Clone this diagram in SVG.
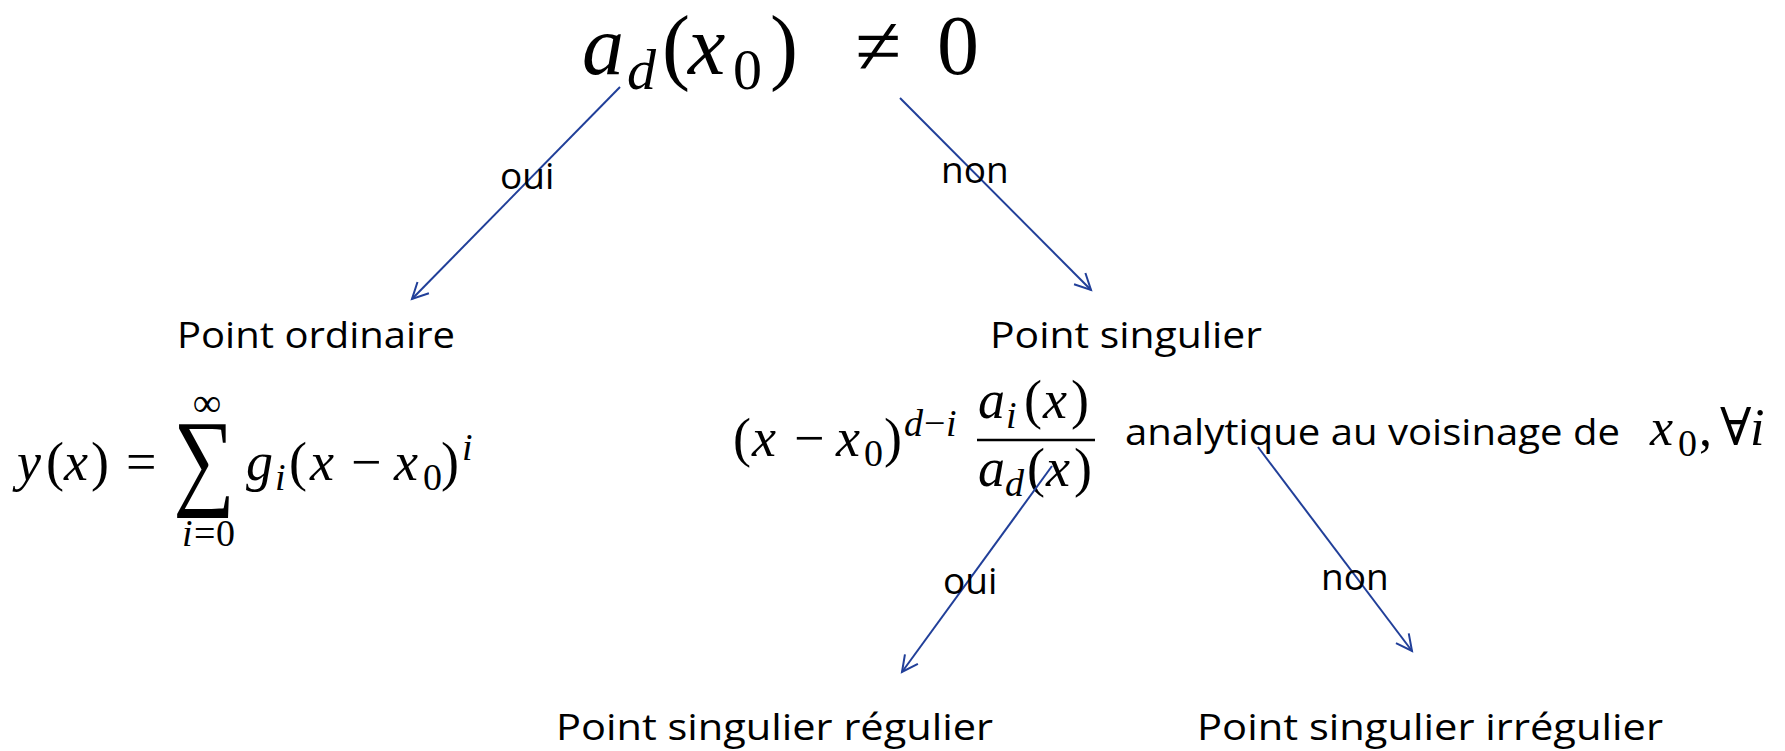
<svg xmlns="http://www.w3.org/2000/svg" width="1785" height="751" viewBox="0 0 1785 751">
<style>
.s{font-family:"Open Sans","Liberation Sans",sans-serif;font-size:37px;fill:#000}
.m{font-family:"Liberation Serif","DejaVu Serif",serif;fill:#000}
.it{font-style:italic}
.c{stroke:#213f99;stroke-width:2;fill:none}
</style>
<defs>
<marker id="ah" viewBox="0 0 20 20" markerWidth="20" markerHeight="20" refX="17" refY="10" orient="auto" markerUnits="userSpaceOnUse">
<path d="M1,2 L17,10 L1,18" fill="none" stroke="#213f99" stroke-width="2"/>
</marker>
</defs>
<rect width="1785" height="751" fill="#fff"/>

<g id="root">
<text class="m" font-size="84" y="74"><tspan class="it" x="582">a</tspan><tspan class="it" x="627" y="89" font-size="58">d</tspan><tspan x="662" y="74">(</tspan><tspan class="it" x="688">x</tspan><tspan x="733" y="89" font-size="58">0</tspan><tspan x="770" y="74">)</tspan><tspan x="855">≠</tspan><tspan x="937">0</tspan></text>
</g>

<g id="ordinaire">
<text class="s" x="177" y="348" textLength="278" lengthAdjust="spacingAndGlyphs">Point ordinaire</text>
<text class="m" font-size="54" y="480"><tspan class="it" x="17">y</tspan><tspan x="46">(</tspan><tspan class="it" x="64">x</tspan><tspan x="91">)</tspan><tspan x="126">=</tspan></text>
<text class="m" font-size="108" text-anchor="middle" transform="translate(204,495) scale(0.8,1)">∑</text>
<text class="m" font-size="40" x="207" y="416" text-anchor="middle">∞</text>
<text class="m" font-size="38" y="546"><tspan class="it" x="182">i</tspan><tspan x="194">=</tspan><tspan x="216">0</tspan></text>
<text class="m" font-size="54" y="480"><tspan class="it" x="246">g</tspan><tspan class="it" x="275" y="490" font-size="38">i</tspan><tspan x="289" y="480">(</tspan><tspan class="it" x="310">x</tspan><tspan x="351">−</tspan><tspan class="it" x="394">x</tspan><tspan x="423" y="490" font-size="38">0</tspan><tspan x="441" y="480">)</tspan><tspan class="it" x="462" y="460" font-size="38">i</tspan></text>
</g>

<g id="singulier">
<text class="s" x="990" y="348" textLength="272" lengthAdjust="spacingAndGlyphs">Point singulier</text>
<text class="m" font-size="54" y="456"><tspan x="733">(</tspan><tspan class="it" x="752">x</tspan><tspan x="794">−</tspan><tspan class="it" x="836">x</tspan><tspan x="864" y="466" font-size="38">0</tspan><tspan x="884" y="456">)</tspan><tspan class="it" x="904" y="436" font-size="38">d</tspan><tspan x="924" y="436" font-size="38">−</tspan><tspan class="it" x="946" y="436" font-size="38">i</tspan></text>
<line x1="977" y1="440" x2="1095" y2="440" stroke="#000" stroke-width="2.5"/>
<text class="m" font-size="54" y="418"><tspan class="it" x="978">a</tspan><tspan class="it" x="1006" y="428" font-size="38">i</tspan><tspan x="1024" y="418">(</tspan><tspan class="it" x="1043">x</tspan><tspan x="1071">)</tspan></text>
<text class="m" font-size="54" y="486"><tspan class="it" x="978">a</tspan><tspan class="it" x="1005" y="496" font-size="38">d</tspan><tspan x="1027" y="486">(</tspan><tspan class="it" x="1046">x</tspan><tspan x="1074">)</tspan></text>
<text class="s" x="1125" y="445" font-size="40" textLength="495" lengthAdjust="spacingAndGlyphs">analytique au voisinage de</text>
<text class="m" font-size="52" y="445"><tspan class="it" x="1650">x</tspan><tspan x="1678" y="456" font-size="38">0</tspan><tspan x="1699" y="445">,</tspan><tspan x="1720">∀</tspan><tspan class="it" x="1750">i</tspan></text>
</g>

<g id="regulier">
<text class="s" x="556" y="740" textLength="437" lengthAdjust="spacingAndGlyphs">Point singulier régulier</text>
</g>

<g id="irregulier">
<text class="s" x="1197" y="740" textLength="466" lengthAdjust="spacingAndGlyphs">Point singulier irrégulier</text>
</g>

<g id="connectors">
<line class="c" x1="620" y1="87" x2="412" y2="299" marker-end="url(#ah)"/>
<line class="c" x1="900" y1="98" x2="1091" y2="290" marker-end="url(#ah)"/>
<line class="c" x1="1052" y1="466" x2="902" y2="672" marker-end="url(#ah)"/>
<line class="c" x1="1258" y1="447" x2="1412" y2="651" marker-end="url(#ah)"/>
<text class="s" x="500" y="189">oui</text>
<text class="s" x="941" y="183">non</text>
<text class="s" x="943" y="594">oui</text>
<text class="s" x="1321" y="590">non</text>
</g>
</svg>
